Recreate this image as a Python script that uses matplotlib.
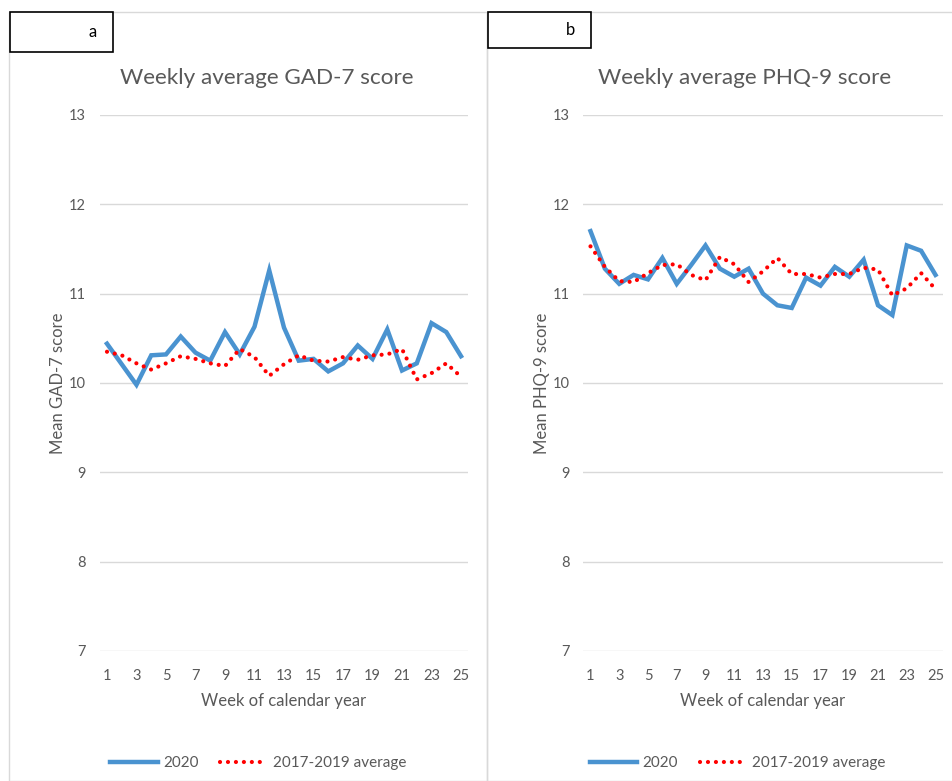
import matplotlib.pyplot as plt
from matplotlib.patches import Rectangle

plt.rcParams["font.family"] = ["Lato", "DejaVu Sans"]

weeks = list(range(1, 26))

gad_2020 = [10.44, 10.21, 9.98, 10.31, 10.32, 10.52, 10.34, 10.25, 10.57, 10.32,
            10.63, 11.26, 10.62, 10.25, 10.27, 10.13, 10.22, 10.42, 10.27, 10.60,
            10.14, 10.22, 10.67, 10.57, 10.30]
gad_avg = [10.35, 10.31, 10.22, 10.15, 10.22, 10.30, 10.27, 10.22, 10.19, 10.38,
           10.29, 10.08, 10.21, 10.31, 10.25, 10.24, 10.29, 10.26, 10.31, 10.32,
           10.38, 10.04, 10.11, 10.22, 10.07]

phq_2020 = [11.70, 11.28, 11.11, 11.21, 11.16, 11.40, 11.11, 11.32, 11.54, 11.28,
            11.19, 11.28, 11.00, 10.87, 10.84, 11.18, 11.09, 11.30, 11.19, 11.38,
            10.87, 10.76, 11.54, 11.48, 11.21]
phq_avg = [11.53, 11.30, 11.14, 11.13, 11.23, 11.32, 11.33, 11.21, 11.15, 11.41,
           11.33, 11.13, 11.25, 11.40, 11.22, 11.22, 11.18, 11.22, 11.22, 11.29,
           11.27, 10.98, 11.06, 11.23, 11.05]

panels = [
    ("a", "Weekly average GAD-7 score", "Mean GAD-7 score", gad_2020, gad_avg),
    ("b", "Weekly average PHQ-9 score", "Mean PHQ-9 score", phq_2020, phq_avg),
]

W, H = 953, 781
fig = plt.figure(figsize=(W / 100, H / 100), dpi=100)

grey = "#595959"
blue = "#4A93D0"
red = "#FF0000"

# pixel layout of each panel: chart frame, plot area, label box, title centre
layout = [
    dict(frame=(9, 487), plot=(99.6, 368.8), box=(10, 12, 103, 40), tx=267),
    dict(frame=(487, 953), plot=(583.3, 359.4), box=(488, 12, 103, 36), tx=745),
]

for (letter, title, ylabel, s2020, savg), lay in zip(panels, layout):
    # chart frame
    fx0, fx1 = lay["frame"]
    fig.patches.append(Rectangle((fx0 / W, 0), (fx1 - fx0) / W, 1 - 12 / H,
                                 transform=fig.transFigure, fill=False,
                                 edgecolor="#D9D9D9", linewidth=1))
    bx, by, bw, bh = lay["box"]
    fig.patches.append(Rectangle((bx / W, 1 - (by + bh) / H), bw / W, bh / H,
                                 transform=fig.transFigure, fill=True,
                                 facecolor="white", edgecolor="black",
                                 linewidth=1.2, zorder=5))
    fig.text((bx + bw - 20) / W, 1 - (by + bh / 2) / H, letter, fontsize=12,
             ha="center", va="center", color="black", zorder=6)
    fig.text(lay["tx"] / W, 1 - 78 / H, title, fontsize=16.2, color=grey,
             ha="center", va="center")

    px, pw = lay["plot"]
    ax = fig.add_axes([px / W, 1 - 651 / H, pw / W, (651 - 115) / H])
    ax.plot(weeks, s2020, color=blue, linewidth=3.2, solid_joinstyle="miter",
            label="2020", zorder=3)
    ax.plot(weeks, savg, color=red, linewidth=3.0, linestyle=(0, (0.01, 1.9)),
            dash_capstyle="round", label="2017-2019 average", zorder=4)

    ax.set_xlim(0.5, 25.5)
    ax.set_ylim(7, 13)
    ax.set_yticks(range(7, 14))
    ax.set_xticks(weeks[::2])
    ax.grid(axis="y", color="#D9D9D9", linewidth=1)
    ax.set_axisbelow(True)
    for sp in ax.spines.values():
        sp.set_visible(False)
    ax.tick_params(axis="x", length=0, colors=grey, labelsize=10.5, pad=13)
    ax.tick_params(axis="y", length=0, colors=grey, labelsize=10.5, pad=10)
    ax.set_xlabel("Week of calendar year", color=grey, fontsize=12, labelpad=7)
    ax.set_ylabel(ylabel, color=grey, fontsize=12, labelpad=2)
    ax.legend(loc="upper center", bbox_to_anchor=(0.43, -0.17), ncol=2,
              frameon=False, fontsize=11, labelcolor=grey, handlelength=3.1,
              columnspacing=1.4, handletextpad=0.35)

fig.savefig("out.png", dpi=100)
